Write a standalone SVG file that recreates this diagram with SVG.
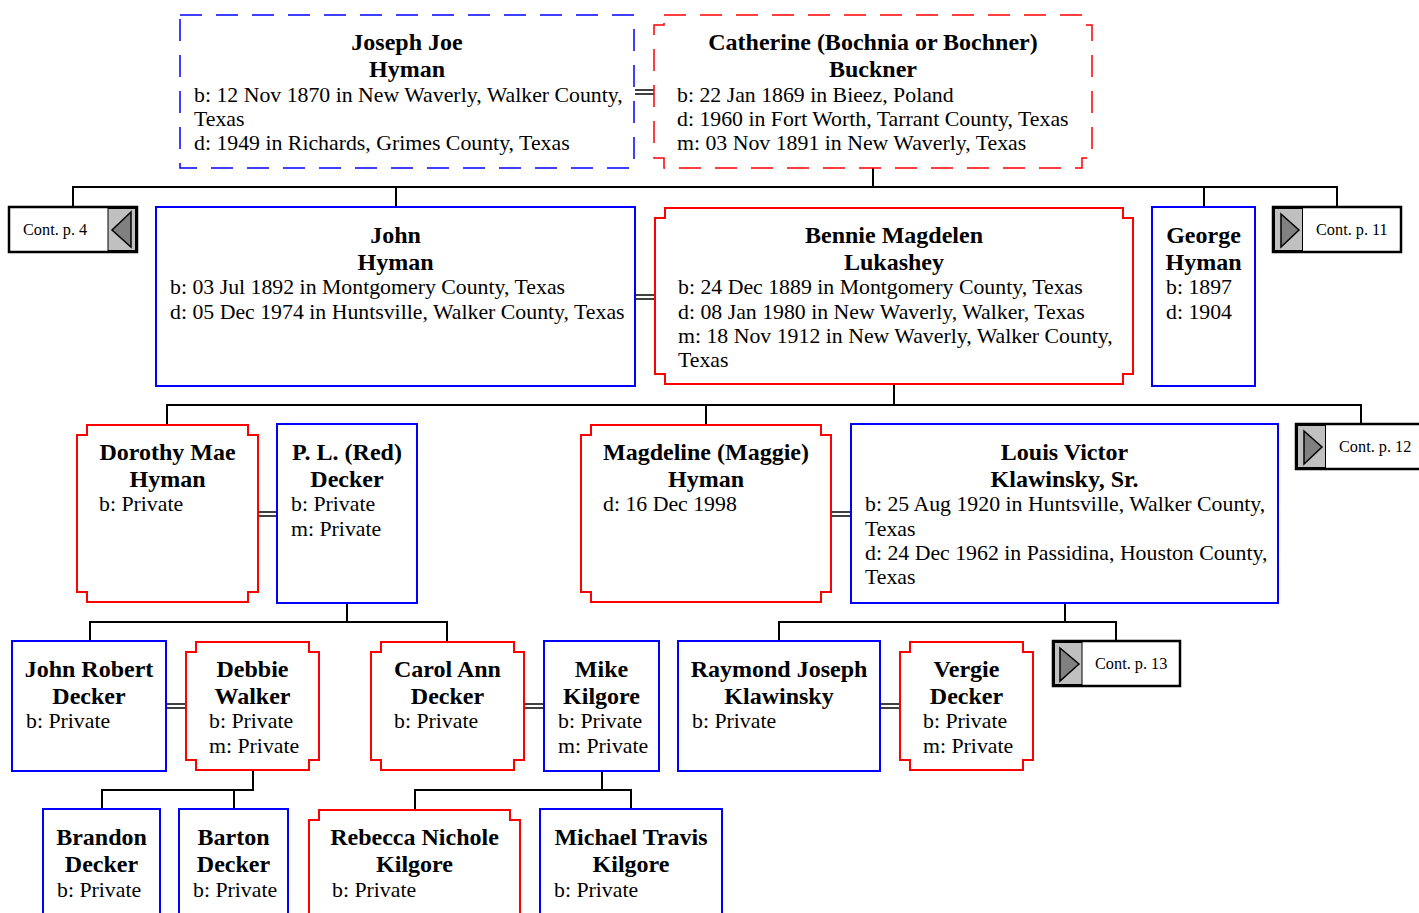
<svg xmlns="http://www.w3.org/2000/svg" width="1419" height="913" viewBox="0 0 1419 913">
<style>
.b{fill:#fff;stroke:#0000ff;stroke-width:2}
.r{fill:#fff;stroke:#ff0000;stroke-width:2}
.d{stroke-dasharray:22 14;stroke-width:1.5}
.n{font-family:"Liberation Serif",serif;font-weight:bold;font-size:24px;text-anchor:middle;fill:#000}
.t{font-family:"Liberation Serif",serif;font-size:21.8px;fill:#000}
.c{font-family:"Liberation Serif",serif;font-size:16.3px;fill:#000}
.cb{fill:#fff;stroke:#000;stroke-width:2.5}
.g{fill:#c0c0c0;stroke:#000;stroke-width:1}
.tri{fill:#808080;stroke:#000;stroke-width:1.5}
#connectors line{stroke:#000;stroke-width:2}
#connectors .m{stroke-width:1.5}
</style>
<rect width="1419" height="913" fill="#fff"/>
<g id="connectors">
<line x1="873" y1="168" x2="873" y2="187"/><line x1="72" y1="187" x2="1338" y2="187"/>
<line x1="73" y1="187" x2="73" y2="207"/><line x1="396" y1="187" x2="396" y2="207"/><line x1="1204" y1="187" x2="1204" y2="207"/><line x1="1337" y1="187" x2="1337" y2="207"/>
<line x1="894" y1="384" x2="894" y2="405"/><line x1="166" y1="405" x2="1362" y2="405"/>
<line x1="167" y1="405" x2="167" y2="425"/><line x1="706" y1="405" x2="706" y2="425"/><line x1="1361" y1="405" x2="1361" y2="424"/>
<line x1="347" y1="603" x2="347" y2="622"/><line x1="89" y1="622" x2="448" y2="622"/>
<line x1="90" y1="622" x2="90" y2="641"/><line x1="447" y1="622" x2="447" y2="642"/>
<line x1="1065" y1="603" x2="1065" y2="622"/><line x1="778" y1="622" x2="1117" y2="622"/>
<line x1="779" y1="622" x2="779" y2="641"/><line x1="1116" y1="622" x2="1116" y2="641"/>
<line x1="253" y1="770" x2="253" y2="790"/><line x1="101" y1="790" x2="254" y2="790"/>
<line x1="102" y1="790" x2="102" y2="809"/><line x1="234" y1="790" x2="234" y2="809"/>
<line x1="602" y1="771" x2="602" y2="790"/><line x1="414" y1="790" x2="632" y2="790"/>
<line x1="415" y1="790" x2="415" y2="810"/><line x1="631" y1="790" x2="631" y2="809"/>
<line class="m" x1="635" y1="90" x2="654" y2="90"/><line class="m" x1="635" y1="94" x2="654" y2="94"/>
<line class="m" x1="636" y1="295" x2="655" y2="295"/><line class="m" x1="636" y1="299" x2="655" y2="299"/>
<line class="m" x1="258" y1="512" x2="277" y2="512"/><line class="m" x1="258" y1="516" x2="277" y2="516"/>
<line class="m" x1="831" y1="512" x2="851" y2="512"/><line class="m" x1="831" y1="516" x2="851" y2="516"/>
<line class="m" x1="166" y1="704" x2="186" y2="704"/><line class="m" x1="166" y1="708" x2="186" y2="708"/>
<line class="m" x1="524" y1="704" x2="544" y2="704"/><line class="m" x1="524" y1="708" x2="544" y2="708"/>
<line class="m" x1="880" y1="704" x2="900" y2="704"/><line class="m" x1="880" y1="708" x2="900" y2="708"/>
</g>
<g id="joseph">
<rect class="b d" x="180" y="15" width="454" height="153"/>
<text class="n" x="407" y="50">Joseph Joe</text><text class="n" x="407" y="77">Hyman</text>
<text class="t" x="194" y="102">b: 12 Nov 1870 in New Waverly, Walker County,</text>
<text class="t" x="194" y="126">Texas</text>
<text class="t" x="194" y="150">d: 1949 in Richards, Grimes County, Texas</text>
</g>
<g id="catherine">
<path class="r d" d="M664 15H1082V25H1092V158H1082V168H664V158H654V25H664Z"/>
<text class="n" x="873" y="50">Catherine (Bochnia or Bochner)</text><text class="n" x="873" y="77">Buckner</text>
<text class="t" x="677" y="102">b: 22 Jan 1869 in Bieez, Poland</text>
<text class="t" x="677" y="126">d: 1960 in Fort Worth, Tarrant County, Texas</text>
<text class="t" x="677" y="150">m: 03 Nov 1891 in New Waverly, Texas</text>
</g>
<g id="cont4">
<rect class="cb" x="9" y="207" width="128" height="45"/>
<rect class="g" x="108" y="208.5" width="27.5" height="42"/>
<polygon class="tri" points="131,212 112,230 131,247"/>
<text class="c" x="23" y="235">Cont. p. 4</text>
</g>
<g id="john">
<rect class="b" x="156" y="207" width="479" height="179"/>
<text class="n" x="395.5" y="243">John</text><text class="n" x="395.5" y="270">Hyman</text>
<text class="t" x="170" y="294">b: 03 Jul 1892 in Montgomery County, Texas</text>
<text class="t" x="170" y="319">d: 05 Dec 1974 in Huntsville, Walker County, Texas</text>
</g>
<g id="bennie">
<path class="r" d="M665 208H1123V218H1133V374H1123V384H665V374H655V218H665Z"/>
<text class="n" x="894" y="243">Bennie Magdelen</text><text class="n" x="894" y="270">Lukashey</text>
<text class="t" x="678" y="294">b: 24 Dec 1889 in Montgomery County, Texas</text>
<text class="t" x="678" y="319">d: 08 Jan 1980 in New Waverly, Walker, Texas</text>
<text class="t" x="678" y="343">m: 18 Nov 1912 in New Waverly, Walker County,</text>
<text class="t" x="678" y="367">Texas</text>
</g>
<g id="george">
<rect class="b" x="1152" y="207" width="103" height="179"/>
<text class="n" x="1203.5" y="243">George</text><text class="n" x="1203.5" y="270">Hyman</text>
<text class="t" x="1166" y="294">b: 1897</text>
<text class="t" x="1166" y="319">d: 1904</text>
</g>
<g id="cont11">
<rect class="cb" x="1273" y="207" width="128" height="45"/>
<rect class="g" x="1274.5" y="208.5" width="28" height="42"/>
<polygon class="tri" points="1281,214 1299,230 1281,247"/>
<text class="c" x="1316" y="235">Cont. p. 11</text>
</g>
<g id="dorothy">
<path class="r" d="M87 425H248V435H258V592H248V602H87V592H77V435H87Z"/>
<text class="n" x="167.5" y="460">Dorothy Mae</text><text class="n" x="167.5" y="487">Hyman</text>
<text class="t" x="99" y="511">b: Private</text>
</g>
<g id="pl">
<rect class="b" x="277" y="424" width="140" height="179"/>
<text class="n" x="347" y="460">P. L. (Red)</text><text class="n" x="347" y="487">Decker</text>
<text class="t" x="291" y="511">b: Private</text>
<text class="t" x="291" y="536">m: Private</text>
</g>
<g id="magdeline">
<path class="r" d="M591 425H821V435H831V592H821V602H591V592H581V435H591Z"/>
<text class="n" x="706" y="460">Magdeline (Maggie)</text><text class="n" x="706" y="487">Hyman</text>
<text class="t" x="603" y="511">d: 16 Dec 1998</text>
</g>
<g id="louis">
<rect class="b" x="851" y="424" width="427" height="179"/>
<text class="n" x="1064.5" y="460">Louis Victor</text><text class="n" x="1064.5" y="487">Klawinsky, Sr.</text>
<text class="t" x="865" y="511">b: 25 Aug 1920 in Huntsville, Walker County,</text>
<text class="t" x="865" y="536">Texas</text>
<text class="t" x="865" y="560">d: 24 Dec 1962 in Passidina, Houston County,</text>
<text class="t" x="865" y="584">Texas</text>
</g>
<g id="cont12">
<rect class="cb" x="1296" y="424" width="130" height="45"/>
<rect class="g" x="1297.5" y="425.5" width="28" height="42"/>
<polygon class="tri" points="1304,431 1322,447 1304,464"/>
<text class="c" x="1339" y="452">Cont. p. 12</text>
</g>
<g id="johnrobert">
<rect class="b" x="12" y="641" width="154" height="130"/>
<text class="n" x="89" y="677">John Robert</text><text class="n" x="89" y="704">Decker</text>
<text class="t" x="26" y="728">b: Private</text>
</g>
<g id="debbie">
<path class="r" d="M196 642H309V652H319V760H309V770H196V760H186V652H196Z"/>
<text class="n" x="252.5" y="677">Debbie</text><text class="n" x="252.5" y="704">Walker</text>
<text class="t" x="209" y="728">b: Private</text>
<text class="t" x="209" y="753">m: Private</text>
</g>
<g id="carol">
<path class="r" d="M381 642H514V652H524V760H514V770H381V760H371V652H381Z"/>
<text class="n" x="447.5" y="677">Carol Ann</text><text class="n" x="447.5" y="704">Decker</text>
<text class="t" x="394" y="728">b: Private</text>
</g>
<g id="mike">
<rect class="b" x="544" y="641" width="115" height="130"/>
<text class="n" x="601.5" y="677">Mike</text><text class="n" x="601.5" y="704">Kilgore</text>
<text class="t" x="558" y="728">b: Private</text>
<text class="t" x="558" y="753">m: Private</text>
</g>
<g id="raymond">
<rect class="b" x="678" y="641" width="202" height="130"/>
<text class="n" x="779" y="677">Raymond Joseph</text><text class="n" x="779" y="704">Klawinsky</text>
<text class="t" x="692" y="728">b: Private</text>
</g>
<g id="vergie">
<path class="r" d="M910 642H1023V652H1033V760H1023V770H910V760H900V652H910Z"/>
<text class="n" x="966.5" y="677">Vergie</text><text class="n" x="966.5" y="704">Decker</text>
<text class="t" x="923" y="728">b: Private</text>
<text class="t" x="923" y="753">m: Private</text>
</g>
<g id="cont13">
<rect class="cb" x="1053" y="641" width="127" height="45"/>
<rect class="g" x="1054.5" y="642.5" width="27.5" height="42"/>
<polygon class="tri" points="1060,648 1079,664 1060,681"/>
<text class="c" x="1095" y="669">Cont. p. 13</text>
</g>
<g id="brandon">
<rect class="b" x="43" y="809" width="117" height="130"/>
<text class="n" x="101.5" y="845">Brandon</text><text class="n" x="101.5" y="872">Decker</text>
<text class="t" x="57" y="897">b: Private</text>
</g>
<g id="barton">
<rect class="b" x="179" y="809" width="109" height="130"/>
<text class="n" x="233.5" y="845">Barton</text><text class="n" x="233.5" y="872">Decker</text>
<text class="t" x="193" y="897">b: Private</text>
</g>
<g id="rebecca">
<path class="r" d="M319 810H510V820H520V940H309V820H319Z"/>
<text class="n" x="414.5" y="845">Rebecca Nichole</text><text class="n" x="414.5" y="872">Kilgore</text>
<text class="t" x="332" y="897">b: Private</text>
</g>
<g id="michael">
<rect class="b" x="540" y="809" width="182" height="130"/>
<text class="n" x="631" y="845">Michael Travis</text><text class="n" x="631" y="872">Kilgore</text>
<text class="t" x="554" y="897">b: Private</text>
</g>
</svg>
